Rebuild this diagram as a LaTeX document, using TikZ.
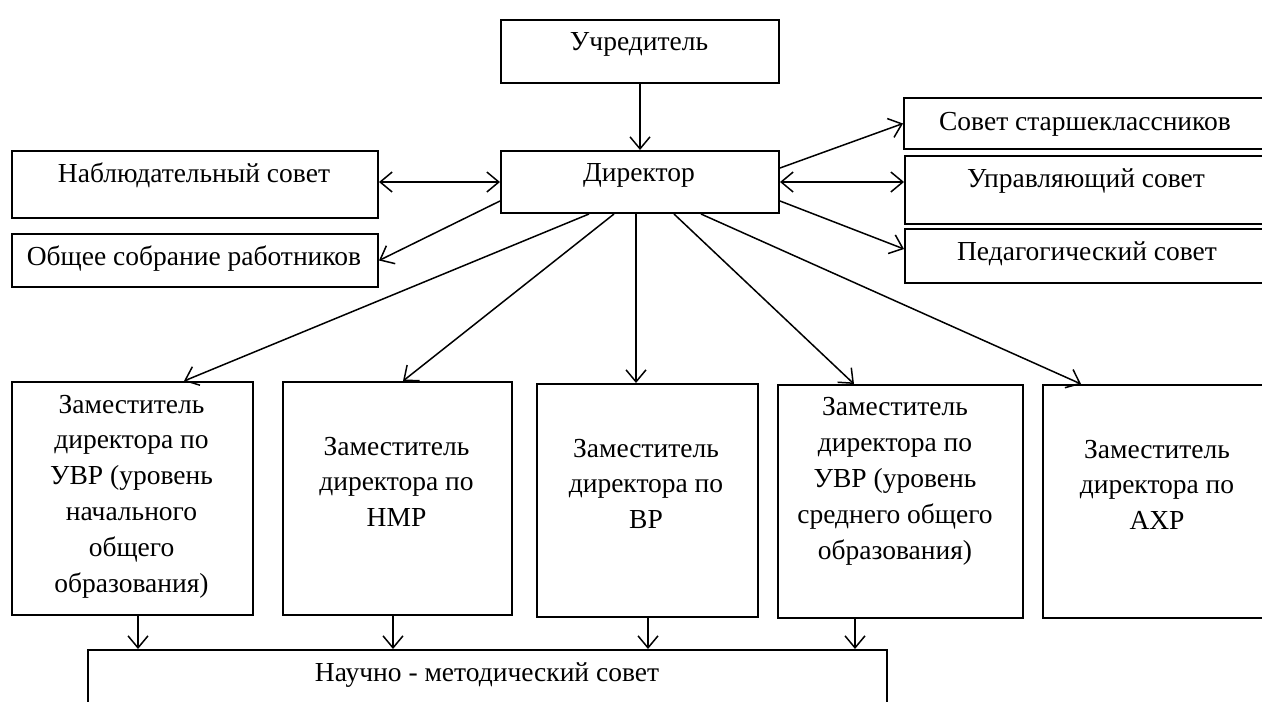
\documentclass[tikz,border=0pt]{standalone}
\usepackage{fontspec}
\setmainfont{Liberation Serif}
\usetikzlibrary{arrows.meta}

\begin{document}
\begin{tikzpicture}[x=1pt, y=-1pt,
	box/.style={draw, line width=2pt, anchor=north west, inner sep=0pt},
	txt/.style={anchor=base, align=center, inner sep=0pt, font=\fontsize{27.5}{35.8}\selectfont},
	arr/.style={-{Straight Barb[length=12pt,width=20pt]}, line width=1.5pt},
	darr/.style={{Straight Barb[length=12pt,width=20pt]}-{Straight Barb[length=12pt,width=20pt]}, line width=1.5pt}]
	
	\clip (0,0) rectangle (1262,702);
	
	\node[box, minimum width=278pt, minimum height=63pt] (uchr) at (500,19) {};
	\node[box, minimum width=278pt, minimum height=62pt] (dir) at (500,150) {};
	\node[box, minimum width=366pt, minimum height=67pt] (nabl) at (11,150) {};
	\node[box, minimum width=366pt, minimum height=53pt] (obsh) at (11,233) {};
	\node[box, minimum width=369pt, minimum height=51pt] (sovst) at (903,97) {};
	\node[box, minimum width=368pt, minimum height=68pt] (upr) at (904,155) {};
	\node[box, minimum width=368pt, minimum height=54pt] (ped) at (904,228) {};
	\node[box, minimum width=241pt, minimum height=233pt] (z1) at (11,381) {};
	\node[box, minimum width=229pt, minimum height=233pt] (z2) at (282,381) {};
	\node[box, minimum width=221pt, minimum height=233pt] (z3) at (536,383) {};
	\node[box, minimum width=245pt, minimum height=233pt] (z4) at (777,384) {};
	\node[box, minimum width=230pt, minimum height=233pt] (z5) at (1042,384) {};
	\node[box, minimum width=799pt, minimum height=80pt] (nms) at (87,649) {};
	
	% base = last line
	\node[txt] (tuchr) at (639,50) {Учредитель};
	\node[txt] (tdir) at (639,181) {Директор};
	\node[txt] (tnabl) at (194,182) {Наблюдательный совет};
	\node[txt] (tobsh) at (194,265) {Общее собрание работников};
	\node[txt] (tsovst) at (1085,130) {Совет старшеклассников};
	\node[txt] (tupr) at (1086,187) {Управляющий совет};
	\node[txt] (tped) at (1087,260) {Педагогический совет};
	\node[txt] (tz1) at (131.5,592) {Заместитель\\директора по\\УВР (уровень\\начального\\общего\\образования)};
	\node[txt] (tz2) at (396.5,526.6) {Заместитель\\директора по\\НМР};
	\node[txt] (tz3) at (646,528.6) {Заместитель\\директора по\\ВР};
	\node[txt] (tz4) at (895,559) {Заместитель\\директора по\\УВР (уровень\\среднего общего\\образования)};
	\node[txt] (tz5) at (1157,529.6) {Заместитель\\директора по\\АХР};
	\node[txt] (tnms) at (487,681) {Научно - методический совет};
	
	\path[arr]
	(uchr) edge (dir)
	([yshift=14pt]dir.east) edge (sovst.west)
	([yshift=-19pt]dir.east) edge ([yshift=7pt]ped.west)
	([yshift=-19pt]dir.west) edge (obsh.east)
	([xshift=-51pt]dir.south) edge ([xshift=51.5pt]z1.north)
	([xshift=-26pt]dir.south) edge ([xshift=5.5pt]z2.north)
	([xshift=-4pt]dir.south) edge ([xshift=-4pt]dir.south |- z3.north)
	([xshift=34pt]dir.south) edge ([xshift=-46.5pt]z4.north)
	([xshift=61pt]dir.south) edge ([xshift=-77pt]z5.north)
	
	([xshift=5.5pt]z1.south) edge ([xshift=5.5pt]z1.south |- nms.north)
	([xshift=-4.5pt]z2.south) edge ([xshift=-4.5pt]z2.south |- nms.north)
	([xshift=0.5pt]z3.south) edge ([xshift=0.5pt]z3.south |- nms.north)
	([xshift=-45.5pt]z4.south) edge ([xshift=-45.5pt]z4.south |- nms.north)
	;
	
	\path[darr]
	(nabl.east |- dir.west) edge (dir.west)
	(dir.east) edge (dir.east -| upr.west)
	;
\end{tikzpicture}
\end{document}
